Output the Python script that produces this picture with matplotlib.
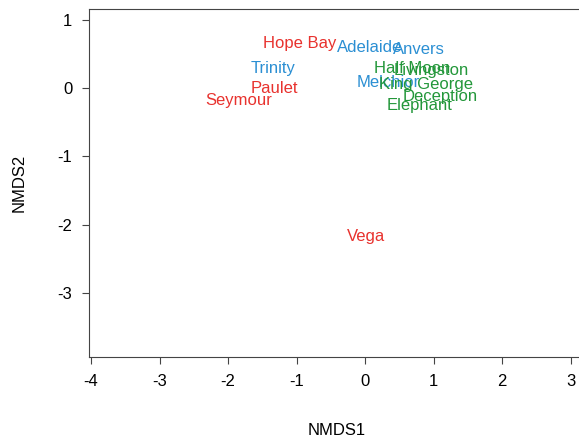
import matplotlib
matplotlib.use('Agg')
import matplotlib.pyplot as plt

# site names, NMDS scores and group colours
sitios = ['Hope Bay', 'Adelaide', 'Anvers', 'Trinity', 'Half Moon', 'Livingston',
          'Melchior', 'King George', 'Paulet', 'Seymour', 'Deception', 'Elephant', 'Vega']
nmds1 = [-0.96, 0.07, 0.78, -1.35, 0.69, 0.97, 0.34, 0.89, -1.33, -1.85, 1.09, 0.80, 0.01]
nmds2 = [0.66, 0.60, 0.56, 0.29, 0.29, 0.26, 0.09, 0.05, 0.00, -0.18, -0.12, -0.25, -2.17]
grupos = ['r', 'b', 'b', 'b', 'g', 'g', 'b', 'g', 'r', 'r', 'g', 'g', 'r']
colores = {'r': '#E8322E', 'b': '#2B8FD3', 'g': '#23973A'}

xticks = [-4, -3, -2, -1, 0, 1, 2, 3]
yticks = [1, 0, -1, -2, -3]

plt.rcParams['font.family'] = ['Liberation Sans', 'DejaVu Sans']

fig = plt.figure(figsize=(5.79, 4.43), dpi=100)
ax = fig.add_axes([89 / 579, 1 - 357 / 443, (585 - 89) / 579, (357 - 9) / 443])

for nombre, x, y, g in zip(sitios, nmds1, nmds2, grupos):
    ax.text(x, y, nombre, color=colores[g], fontsize=12, ha='center', va='center')

ax.set_xlim(-4.03, 3.21)
ax.set_ylim(-3.94, 1.16)
ax.set_xticks(xticks)
ax.set_yticks(yticks)
ax.set_xticklabels([str(t) for t in xticks])
ax.set_yticklabels([str(t) for t in yticks])
ax.tick_params(labelsize=12, length=5, width=0.8, color='#444444', pad=7)
for s in ax.spines.values():
    s.set_color('#444444')
    s.set_linewidth(0.8)

ax.set_xlabel('NMDS1', fontsize=12, labelpad=25)
ax.set_ylabel('NMDS2', fontsize=12, labelpad=22)

fig.savefig('out.png', dpi=100)
